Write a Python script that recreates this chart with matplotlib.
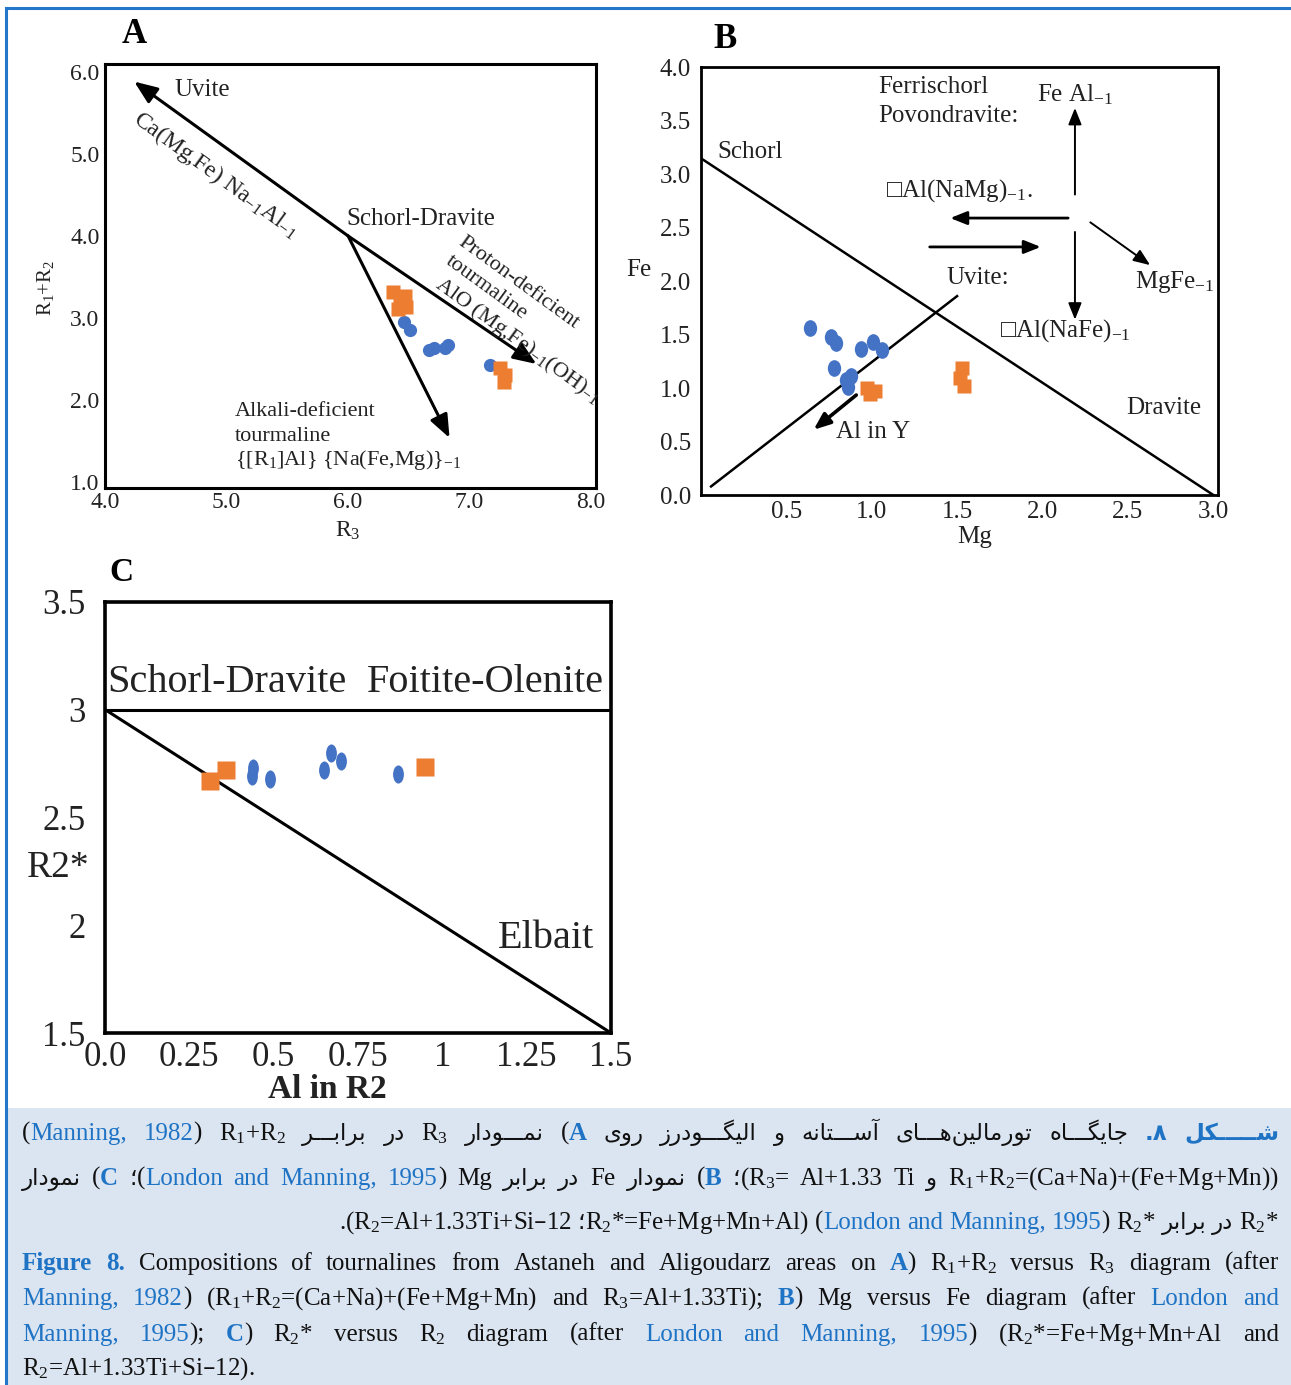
import matplotlib
matplotlib.use('Agg')
import matplotlib.pyplot as plt
from matplotlib.lines import Line2D
from matplotlib.patches import Rectangle
from matplotlib.markers import MarkerStyle
from matplotlib.transforms import Affine2D

plt.rcParams['font.family'] = ['Liberation Serif', 'DejaVu Sans']
plt.rcParams['mathtext.default'] = 'regular'

W, H = 1291, 1385
BLUE = '#4472c4'
ORANGE = '#ed7d31'
LINK = '#1f73c4'
FRAME = '#2277c9'
TICKC = '#222222'

# ---------------- data ----------------
# A: R1+R2 vs R3
a_blue_x = [6.46, 6.51, 6.67, 6.71, 6.80, 6.82, 7.17]
a_blue_y = [2.95, 2.85, 2.61, 2.64, 2.63, 2.67, 2.43]
a_orange_x = [6.37, 6.43, 6.47, 6.41, 6.48, 7.25, 7.29, 7.28]
a_orange_y = [3.32, 3.22, 3.27, 3.11, 3.13, 2.39, 2.31, 2.22]
a_xticks = [4.0, 5.0, 6.0, 7.0, 8.0]
a_yticks = [1.0, 2.0, 3.0, 4.0, 5.0, 6.0]

# B: Fe vs Mg
b_blue_x = [0.64, 0.76, 0.79, 0.94, 1.01, 1.06, 0.78, 0.85, 0.88, 0.86]
b_blue_y = [1.56, 1.48, 1.42, 1.37, 1.43, 1.36, 1.19, 1.08, 1.11, 1.01]
b_orange_x = [0.97, 1.02, 0.99, 1.53, 1.52, 1.54]
b_orange_y = [1.00, 0.97, 0.94, 1.19, 1.09, 1.02]
b_xticks = [0.5, 1.0, 1.5, 2.0, 2.5, 3.0]
b_yticks = [0.0, 0.5, 1.0, 1.5, 2.0, 2.5, 3.0, 3.5, 4.0]

# C: R2* vs Al in R2
c_blue_x = [0.44, 0.435, 0.49, 0.65, 0.67, 0.70, 0.87]
c_blue_y = [2.73, 2.69, 2.68, 2.72, 2.80, 2.76, 2.70]
c_orange_x = [0.31, 0.36, 0.95]
c_orange_y = [2.67, 2.72, 2.735]
c_xticks = [0.0, 0.25, 0.5, 0.75, 1.0, 1.25, 1.5]
c_xlabels = ['0.0', '0.25', '0.5', '0.75', '1', '1.25', '1.5']
c_yticks = [1.5, 2.0, 2.5, 3.0, 3.5]
c_ylabels = ['1.5', '2', '2.5', '3', '3.5']

# ---------------- figure ----------------
fig = plt.figure(figsize=(W / 100, H / 100), dpi=100)

# caption background and blue frame
fig.patches.append(Rectangle((6 / W, 0), 1 - 6 / W, 1 - 1108 / H, transform=fig.transFigure,
                             facecolor='#dbe5f1', edgecolor='none', zorder=0))
fig.lines.append(Line2D([6 / W, 1], [1 - 8 / H, 1 - 8 / H], transform=fig.transFigure,
                        color=FRAME, lw=2.2))
fig.lines.append(Line2D([6 / W, 6 / W], [0, 1 - 8 / H], transform=fig.transFigure,
                        color=FRAME, lw=2.2))


def px_axes(l, t, r, b):
    return fig.add_axes([l / W, 1 - b / H, (r - l) / W, (b - t) / H])


def style_axes(ax, xt, xl, yt, yl, xm, ym, size, xlen, ylen, lw, xpad, ypad):
    for s in ax.spines.values():
        s.set_linewidth(lw)
    ax.set_xticks(xt, xl)
    ax.set_yticks(yt, yl)
    ax.set_xticks(xm, minor=True)
    ax.set_yticks(ym, minor=True)
    ax.tick_params(which='major', length=0, labelsize=size, labelcolor=TICKC)
    ax.tick_params(axis='x', which='major', pad=xpad)
    ax.tick_params(axis='y', which='major', pad=ypad)
    ax.tick_params(axis='x', which='minor', direction='in', length=xlen, width=lw)
    ax.tick_params(axis='y', which='minor', direction='in', length=ylen, width=lw)


def arrow(ax, start, tip, lw, scale):
    ax.annotate('', xy=tip, xytext=start,
                arrowprops=dict(arrowstyle='-|>,head_length=0.5,head_width=0.2', lw=lw,
                                color='k', mutation_scale=scale, shrinkA=0, shrinkB=0))


# ---- panel A ----
axA = px_axes(105, 63.5, 596, 488)
axA.set_xlim(4.0, 8.04)
axA.set_ylim(0.93, 6.1)
style_axes(axA, a_xticks, ['%.1f' % v for v in a_xticks], a_yticks, ['%.1f' % v for v in a_yticks],
           [5, 6, 7], [2, 3, 4, 5], 17, 9, 15, 2.2, 3, 4)
arrow(axA, (6.0, 4.0), (4.24, 5.88), 2.2, 28)
arrow(axA, (6.0, 4.0), (7.55, 2.44), 2.2, 28)
arrow(axA, (6.0, 4.0), (6.835, 1.54), 2.2, 28)
axA.plot(a_blue_x, a_blue_y, ls='none', marker='o', ms=9.5, color=BLUE, mec='none')
axA.plot(a_orange_x, a_orange_y, ls='none', marker='s', ms=10, color=ORANGE, mec='none')
tA = dict(color='#222222', va='center')
axA.text(4.57, 5.78, 'Uvite', fontsize=18, ha='left', **tA)
axA.text(4.91, 4.75, 'Ca(Mg,Fe) Na$_{-1}$Al$_{-1}$', fontsize=17, ha='center',
         rotation=-36, rotation_mode='anchor', **tA)
axA.text(5.99, 4.21, 'Schorl-Dravite', fontsize=18, ha='left', **tA)
for (x, y, s) in [(6.92, 3.95, 'Proton-deficient'), (6.815, 3.71, 'tourmaline'),
                  (6.73, 3.44, 'AlO (Mg,Fe)$_{-1}$(OH)$_{-1}$')]:
    axA.text(x, y, s, fontsize=16, ha='left', rotation=-36, rotation_mode='anchor', **tA)
for (y, s) in [(1.856, 'Alkali-deficient'), (1.563, 'tourmaline'),
               (1.27, '{[R$_1$]Al} {Na(Fe,Mg)}$_{-1}$')]:
    axA.text(5.07, y, s, fontsize=16, ha='left', **tA)
axA.text(-0.121, 0.472, 'R$_1$+R$_2$', transform=axA.transAxes, rotation=90, fontsize=15,
         ha='center', **tA)
axA.text(0.495, -0.101, 'R$_3$', transform=axA.transAxes, fontsize=17, ha='center', **tA)
axA.text(0.06, 1.069, 'A', transform=axA.transAxes, fontsize=25, weight='bold', ha='center',
         va='center')

# ---- panel B ----
axB = px_axes(700.8, 67.3, 1217.6, 495)
axB.set_xlim(0, 3.025)
axB.set_ylim(0, 4.0)
style_axes(axB, b_xticks, ['%.1f' % v for v in b_xticks], b_yticks, ['%.1f' % v for v in b_yticks],
           [0.5, 1.0, 1.5, 2.0, 2.5], [0.5, 1.0, 1.5, 2.0, 2.5, 3.0, 3.5], 18, 9, 10, 2.0, 4, 7)
axB.plot([0, 3.0], [3.15, 0], color='k', lw=1.8)
axB.plot([0.06, 1.50], [0.08, 1.86], color='k', lw=1.8)
arrow(axB, (0.91, 0.935), (0.66, 0.61), 2.6, 20)
arrow(axB, (2.19, 2.81), (2.19, 3.62), 1.4, 20)
arrow(axB, (2.19, 2.46), (2.19, 1.64), 1.4, 20)
arrow(axB, (2.15, 2.59), (1.46, 2.59), 2.0, 20)
arrow(axB, (1.34, 2.32), (1.99, 2.32), 2.0, 20)
arrow(axB, (2.28, 2.55), (2.63, 2.15), 1.4, 20)
ell = MarkerStyle('o', transform=Affine2D().scale(0.8, 1.0))
axB.plot(b_blue_x, b_blue_y, ls='none', marker=ell, ms=12, color=BLUE, mec='none')
axB.plot(b_orange_x, b_orange_y, ls='none', marker='s', ms=10, color=ORANGE, mec='none')
tB = dict(color='#222222', va='center', ha='left', fontsize=18)
for (x, y, s) in [(1.04, 3.82, 'Ferrischorl'), (1.04, 3.54, 'Povondravite:'),
                  (1.97, 3.74, 'Fe Al$_{-1}$'), (0.095, 3.21, 'Schorl'),
                  (1.085, 2.85, '\u25a1Al(NaMg)$_{-1}$.'), (1.44, 2.03, 'Uvite:'),
                  (2.54, 1.99, 'MgFe$_{-1}$'), (1.75, 1.54, '\u25a1Al(NaFe)$_{-1}$'),
                  (2.49, 0.81, 'Dravite'), (0.79, 0.59, 'Al in Y')]:
    axB.text(x, y, s, **tB)
axB.text(-0.095, 0.526, 'Fe', transform=axB.transAxes, fontsize=18, ha='right', va='center',
         color='#222222')
axB.text(0.53, -0.098, 'Mg', transform=axB.transAxes, fontsize=18, ha='center', va='center',
         color='#222222')
axB.text(0.047, 1.064, 'B', transform=axB.transAxes, fontsize=25, weight='bold', ha='center',
         va='center')

# ---- panel C ----
axC = px_axes(105, 601.7, 611, 1033)
axC.set_xlim(0, 1.5)
axC.set_ylim(1.5, 3.5)
style_axes(axC, c_xticks, c_xlabels, c_yticks, c_ylabels,
           [0.25, 0.5, 0.75, 1.0, 1.25], [2.0, 2.5], 25, 12, 16, 2.6, 6, 14)
axC.plot([0, 1.5], [3.0, 3.0], color='k', lw=2.2)
axC.plot([0, 1.5], [3.0, 1.5], color='k', lw=2.2)
ellC = MarkerStyle('o', transform=Affine2D().scale(0.6, 1.0))
axC.plot(c_blue_x, c_blue_y, ls='none', marker=ellC, ms=13, color=BLUE, mec='none')
axC.plot(c_orange_x, c_orange_y, ls='none', marker='s', ms=13, color=ORANGE, mec='none')
tC = dict(color='#222222', va='center', ha='left', fontsize=29)
axC.text(0.006, 3.127, 'Schorl-Dravite', **tC)
axC.text(0.777, 3.127, 'Foitite-Olenite', **tC)
axC.text(1.165, 1.94, 'Elbait', **tC)
axC.text(-0.093, 0.383, 'R2*', transform=axC.transAxes, fontsize=27, ha='center', va='center',
         color='#222222')
axC.text(0.44, -0.132, 'Al in R2', transform=axC.transAxes, fontsize=24, weight='bold',
         ha='center', va='center', color='#222222')
axC.text(0.032, 1.067, 'C', transform=axC.transAxes, fontsize=24, weight='bold', ha='center',
         va='center')

# ---------------- caption ----------------
DUAL = {
    '\u0628': '\ufe8f\ufe90\ufe91\ufe92', '\u062a': '\ufe95\ufe96\ufe97\ufe98',
    '\u062c': '\ufe9d\ufe9e\ufe9f\ufea0', '\u0633': '\ufeb1\ufeb2\ufeb3\ufeb4',
    '\u0634': '\ufeb5\ufeb6\ufeb7\ufeb8', '\u0644': '\ufedd\ufede\ufedf\ufee0',
    '\u0645': '\ufee1\ufee2\ufee3\ufee4', '\u0646': '\ufee5\ufee6\ufee7\ufee8',
    '\u0647': '\ufee9\ufeea\ufeeb\ufeec', '\u06cc': '\ufbfc\ufbfd\ufbfe\ufbff',
    '\u06a9': '\ufb8e\ufb8f\ufb90\ufb91', '\u06af': '\ufb92\ufb93\ufb94\ufb95',
}
RIGHT = {
    '\u0627': '\ufe8d\ufe8e', '\u0622': '\ufe81\ufe82', '\u062f': '\ufea9\ufeaa',
    '\u0631': '\ufead\ufeae', '\u0632': '\ufeaf\ufeb0', '\u0648': '\ufeed\ufeee',
}
TATWEEL = '\u0640'


def shape_fa(s):
    # contextual forms + reverse to visual order
    out = []
    for i, c in enumerate(s):
        prev = s[i - 1] if i > 0 else ''
        nxt = s[i + 1] if i + 1 < len(s) else ''
        fwd = lambda ch: ch in DUAL or ch == TATWEEL
        joins = lambda ch: ch in DUAL or ch in RIGHT or ch == TATWEEL
        jp = fwd(prev) and joins(c)
        jn = fwd(c) and joins(nxt)
        if c in DUAL:
            f = DUAL[c]
            out.append(f[3] if jp and jn else f[1] if jp else f[2] if jn else f[0])
        elif c in RIGHT:
            out.append(RIGHT[c][1] if jp else RIGHT[c][0])
        elif c == '\u200c':
            continue
        else:
            out.append(c)
    return ''.join(reversed(out))


SERIF = ['Liberation Serif', 'DejaVu Sans']
STY = {
    'k': dict(color='#111111', family=SERIF, weight='normal', fontsize=18),
    'L': dict(color=LINK, family=SERIF, weight='normal', fontsize=18),
    'B': dict(color=LINK, family=SERIF, weight='bold', fontsize=18),
    'F': dict(color='#111111', family=['DejaVu Sans'], weight='normal', fontsize=16.5),
    'FB': dict(color=LINK, family=['DejaVu Sans'], weight='bold', fontsize=16.5),
}
renderer = fig.canvas.get_renderer()
X0, X1 = 22, 1279


def caption_line(runs, y_px, mode):
    words, cur = [], []
    for txt, st in runs:
        if st.startswith('F'):
            txt = shape_fa(txt)
        parts = txt.split(' ')
        for j, p in enumerate(parts):
            if j > 0 and cur:
                words.append(cur)
                cur = []
            if p:
                cur.append((p, st))
    if cur:
        words.append(cur)
    rows, widths = [], []
    for w in words:
        row, ww = [], 0
        for p, st in w:
            t = fig.text(0, 1 - y_px / H, p, va='baseline', ha='left', **STY[st])
            bw = t.get_window_extent(renderer).width
            row.append((t, bw))
            ww += bw
        rows.append(row)
        widths.append(ww)
    total = sum(widths)
    if mode == 'justify':
        gap = (X1 - X0 - total) / (len(words) - 1)
        x = X0
    elif mode == 'left':
        gap = 6
        x = X0
    else:
        gap = 6
        x = X1 - total - gap * (len(words) - 1)
    for row in rows:
        for t, bw in row:
            t.set_x(x / W)
            x += bw
        x += gap


fa1 = [('(', 'k'), ('Manning,    1982', 'L'), (')', 'k'), (' R$_1$+R$_2$ ', 'k'),
       ('در برابـــر', 'F'), (' R$_3$ ', 'k'), ('نمـــودار', 'F'), (' (', 'k'), ('A', 'B'),
       (' ', 'k'), ('جایگـــاه تورمالین\u200cهـــای آســـتانه و الیگـــودرز روی', 'F'),
       (' ', 'k'), ('شـــــکل ۸.', 'FB')]
fa2 = [('نمودار', 'F'), (' (', 'k'), ('C', 'B'), (' ', 'k'), ('؛', 'F'), ('(', 'k'),
       ('London and Manning, 1995', 'L'), (')', 'k'), (' Mg ', 'k'), ('در برابر', 'F'),
       (' Fe ', 'k'), ('نمودار', 'F'), (' (', 'k'), ('B', 'B'), (' ', 'k'), ('؛', 'F'),
       ('(R$_3$= Al+1.33 Ti ', 'k'), ('و', 'F'), (' R$_1$+R$_2$=(Ca+Na)+(Fe+Mg+Mn))', 'k')]
fa3 = [('.(R$_2$=Al+1.33Ti+Si\u201312 ', 'k'), ('؛', 'F'), ('R$_2$*=Fe+Mg+Mn+Al) (', 'k'),
       ('London and Manning, 1995', 'L'), (') R$_2$* ', 'k'), ('در برابر', 'F'),
       (' R$_2$*', 'k')]
en1 = [('Figure 8.', 'B'), (' Compositions of tournalines from Astaneh and Aligoudarz areas on ', 'k'),
       ('A', 'B'), (') R$_1$+R$_2$ versus R$_3$ diagram (after', 'k')]
en2 = [('Manning, 1982', 'L'), (') (R$_1$+R$_2$=(Ca+Na)+(Fe+Mg+Mn) and R$_3$=Al+1.33Ti); ', 'k'),
       ('B', 'B'), (') Mg versus Fe diagram (after ', 'k'), ('London and', 'L')]
en3 = [('Manning, 1995', 'L'), ('); ', 'k'), ('C', 'B'), (') R$_2$* versus R$_2$ diagram (after ', 'k'),
       ('London and Manning, 1995', 'L'), (') (R$_2$*=Fe+Mg+Mn+Al and', 'k')]
en4 = [('R$_2$=Al+1.33Ti+Si\u201312).', 'k')]

caption_line(fa1, 1140, 'justify')
caption_line(fa2, 1185, 'justify')
caption_line(fa3, 1229, 'right')
caption_line(en1, 1270, 'justify')
caption_line(en2, 1305, 'justify')
caption_line(en3, 1341, 'justify')
caption_line(en4, 1375, 'left')

fig.savefig('out.png', dpi=100)
